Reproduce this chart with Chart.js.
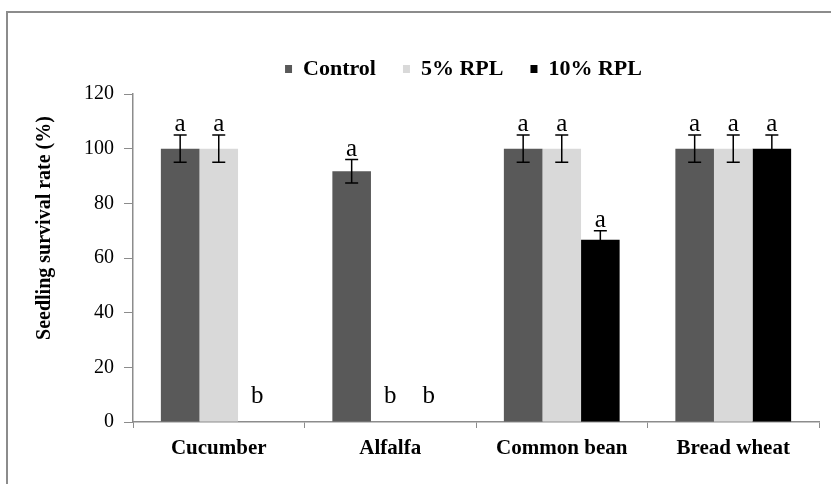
<!DOCTYPE html>
<html>
<head>
<meta charset="utf-8">
<script src="https://cdn.jsdelivr.net/npm/chart.js@4.4.1/dist/chart.umd.min.js"></script>
<style>
  html, body { margin: 0; padding: 0; background: #fff; overflow: hidden; }
  #frame { position: absolute; left: 6px; top: 11px; width: 900px; height: 600px; border: 2px solid #8c8c8c; }
  #wrap { position: absolute; left: 0; top: 0; width: 831px; height: 484px; }
</style>
</head>
<body>
<div id="frame"></div>
<div id="wrap"><canvas id="chart"></canvas></div>
<script>
// データ
const crops = ['Cucumber', 'Alfalfa', 'Common bean', 'Bread wheat'];
const seriesNames = ['Control', '5% RPL', '10% RPL'];
const seriesColors = ['#595959', '#d9d9d9', '#000000'];

const controlValues = [100, 91.7, 100, 100];
const rpl5Values = [100, 0, 100, 100];
const rpl10Values = [0, 0, 66.7, 100];

const controlErrors = [5, 4.3, 5, 5];
const rpl5Errors = [5, 0, 5, 5];
const rpl10Errors = [0, 0, 3.3, 5];

const controlLetters = ['a', 'a', 'a', 'a'];
const rpl5Letters = ['a', 'b', 'a', 'a'];
const rpl10Letters = ['b', 'b', 'a', 'a'];

const yTicks = [0, 20, 40, 60, 80, 100, 120];
const yTitle = 'Seedling survival rate (%)';

const serif = '"Liberation Serif", "Times New Roman", serif';

const allValues = [controlValues, rpl5Values, rpl10Values];
const allErrors = [controlErrors, rpl5Errors, rpl10Errors];
const allLetters = [controlLetters, rpl5Letters, rpl10Letters];

// 凡例の位置調整
const legendTweak = {
    id: 'legendTweak',
    afterInit(chart) {
        const legend = chart.legend;
        const fit = legend.fit;
        legend.fit = function() {
            fit.call(this);
            this.height += 4;
        };
    },
    afterLayout(chart) {
        chart.legend.left += 24;
        chart.legend.right += 24;
    }
};

// エラーバー・有意差の文字・縦軸タイトル
const errorBarPlugin = {
    id: 'errorBars',
    afterDatasetsDraw(chart) {
        const ctx = chart.ctx;
        const y = chart.scales.y;
        ctx.save();
        chart.data.datasets.forEach((ds, i) => {
            const meta = chart.getDatasetMeta(i);
            meta.data.forEach((bar, j) => {
                const v = allValues[i][j];
                const e = allErrors[i][j];
                let top;
                if (e > 0) {
                    const yTop = y.getPixelForValue(v + e);
                    const yBot = y.getPixelForValue(v - e);
                    ctx.strokeStyle = '#000';
                    ctx.lineWidth = 1.5;
                    ctx.beginPath();
                    ctx.moveTo(bar.x, yTop);
                    ctx.lineTo(bar.x, yBot);
                    ctx.moveTo(bar.x - 6.5, yTop);
                    ctx.lineTo(bar.x + 6.5, yTop);
                    ctx.moveTo(bar.x - 6.5, yBot);
                    ctx.lineTo(bar.x + 6.5, yBot);
                    ctx.stroke();
                    top = yTop - 4;
                } else if (v > 0) {
                    top = y.getPixelForValue(v) - 4;
                } else {
                    top = y.getPixelForValue(7);
                }
                ctx.fillStyle = '#000';
                ctx.font = '25px ' + serif;
                ctx.textAlign = 'center';
                ctx.textBaseline = 'alphabetic';
                ctx.fillText(allLetters[i][j], bar.x, top);
            });
        });

        // 縦軸タイトル
        ctx.translate(45, 228);
        ctx.rotate(-Math.PI / 2);
        ctx.font = 'bold 20px ' + serif;
        ctx.textAlign = 'center';
        ctx.textBaseline = 'middle';
        ctx.fillText(yTitle, 0, 0);
        ctx.restore();
    }
};

new Chart(document.getElementById('chart'), {
    type: 'bar',
    data: {
        labels: crops,
        datasets: seriesNames.map((name, i) => ({
            label: name,
            data: allValues[i],
            backgroundColor: seriesColors[i],
            borderWidth: 0,
            barPercentage: 1,
            categoryPercentage: 0.675
        }))
    },
    options: {
        responsive: true,
        maintainAspectRatio: false,
        animation: false,
        layout: { padding: { top: 31, left: 60, right: 12, bottom: 0 } },
        plugins: {
            legend: {
                position: 'top',
                labels: {
                    boxWidth: 7,
                    boxHeight: 8,
                    padding: 27,
                    color: '#000',
                    font: { family: serif, size: 22, weight: 'bold' }
                }
            },
            tooltip: { enabled: false }
        },
        scales: {
            x: {
                afterFit: (scale) => { scale.height = 62; },
                grid: { display: true, drawOnChartArea: false, offset: true, color: '#8c8c8c', tickLength: 6 },
                border: { color: '#8c8c8c', width: 1.5 },
                ticks: { color: '#000', padding: 8, font: { family: serif, size: 21, weight: 'bold' } }
            },
            y: {
                min: 0,
                max: 120,
                afterFit: (scale) => { scale.width = 73; },
                afterBuildTicks: (scale) => { scale.ticks = yTicks.map(v => ({ value: v })); },
                grid: { display: true, drawOnChartArea: false, color: '#8c8c8c', tickLength: 9 },
                border: { color: '#8c8c8c', width: 1.5 },
                ticks: { color: '#000', padding: 10, font: { family: serif, size: 20 } }
            }
        }
    },
    plugins: [legendTweak, errorBarPlugin]
});
</script>
</body>
</html>
